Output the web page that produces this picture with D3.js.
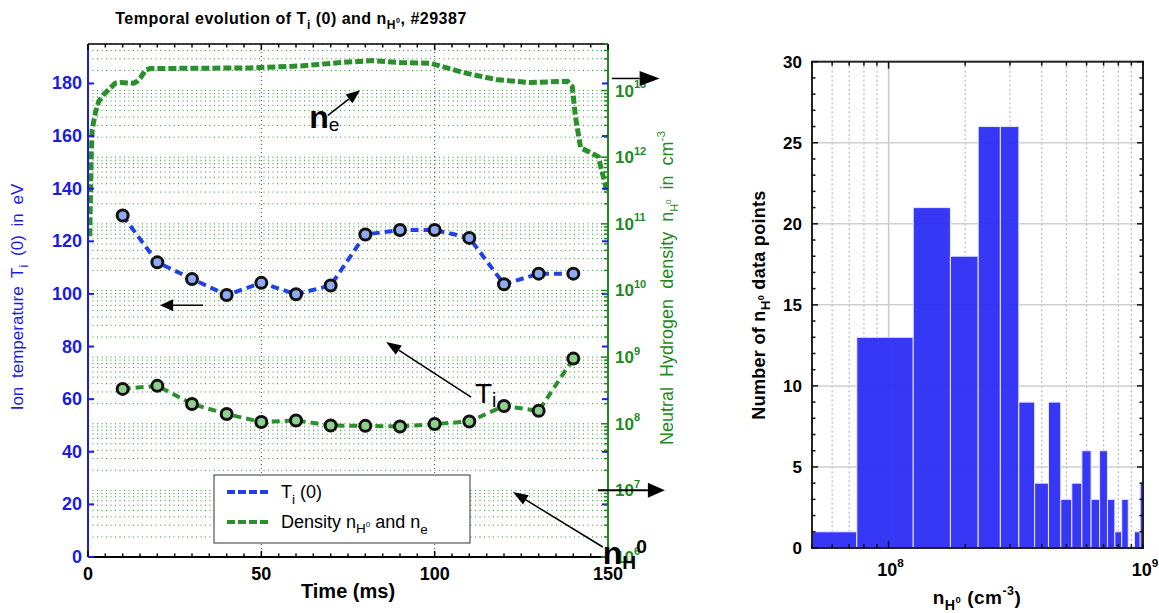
<!DOCTYPE html>
<html>
<head>
<meta charset="utf-8">
<script src="https://cdn.jsdelivr.net/npm/d3@7"></script>
<style>
body { margin: 0; background: #fff; }
svg { display: block; }
text { font-family: "Liberation Sans", Arial, sans-serif; }
</style>
</head>
<body>
<div id="chart"></div>
<script>
// ---- data ----
var timeMs = [10, 20, 30, 40, 50, 60, 70, 80, 90, 100, 110, 120, 130, 140];
var ionTemp = [129.8, 112, 105.7, 99.6, 104.2, 99.9, 103.2, 122.6, 124.3, 124.3, 121.3, 103.7, 107.7, 107.7];
var neutralDensity = [3.33e8, 3.7e8, 1.98e8, 1.4e8, 1.06e8, 1.12e8, 9.4e7, 9.3e7, 9.1e7, 9.9e7, 1.08e8, 1.85e8, 1.56e8, 9.5e8];

// electron density trace (no markers)
var neTime = [0.5, 0.9, 1.2, 2.2, 3.1, 4.5, 6.5, 7.9, 9.4, 13.2, 14.2, 15.1, 16.6, 18, 46.9, 61.3, 72.8, 82.1, 90.1, 98.8, 108.3, 118.1, 127.6, 138.3, 139.7, 140.6, 142.1, 145, 147.2, 149.6];
var neDensity = [6.5e10, 9.1e11, 2.6e12, 4.8e12, 6.9e12, 8.7e12, 1.1e13, 1.29e13, 1.32e13, 1.29e13, 1.38e13, 1.55e13, 2.04e13, 2.14e13, 2.19e13, 2.34e13, 2.63e13, 2.82e13, 2.63e13, 2.57e13, 1.86e13, 1.45e13, 1.32e13, 1.38e13, 1.15e13, 4.1e12, 1.38e12, 1.17e12, 1.02e12, 3.2e11];

var tempTicks = [0, 20, 40, 60, 80, 100, 120, 140, 160, 180];
var timeTicks = [0, 50, 100, 150];
var densityExponents = [6, 7, 8, 9, 10, 11, 12, 13];

// histogram of n_H0
var binCenters = [5e7, 1e8, 1.5e8, 2e8, 2.5e8, 3e8, 3.5e8, 4e8, 4.5e8, 5e8, 5.5e8, 6e8, 6.5e8, 7e8, 7.5e8, 8e8, 8.5e8, 9e8, 9.5e8, 1e9];
var binCounts = [1, 13, 21, 18, 26, 26, 9, 4, 9, 3, 4, 6, 3, 6, 3, 1, 3, 0, 1, 4];
var binWidth = 5e7;
var countTicks = [0, 5, 10, 15, 20, 25, 30];

var BLUE = "#1c1ce0", GREEN = "#1f8a1f", LINE_BLUE = "#2340e6", LINE_GREEN = "#2b8f2b";

var svg = d3.select("#chart").append("svg").attr("width", 1159).attr("height", 613);

// text with sub/superscripts
function rich(parent, x, y, parts, o) {
    var t = parent.append("text").attr("x", x).attr("y", y)
        .attr("text-anchor", o.anchor || "start")
        .attr("fill", o.fill || "#000")
        .style("font-size", o.size + "px")
        .style("font-weight", o.weight || "normal")
        .style("word-spacing", o.ws || null)
        .style("letter-spacing", o.ls || null);
    if (o.rotate) t.attr("transform", "rotate(-90," + x + "," + y + ")");
    var off = 0;
    parts.forEach(function (p) {
        var s = typeof p === "string" ? {t: p} : p;
        var dy = (s.dy || 0) * o.size;
        t.append("tspan").attr("dy", dy - off)
            .style("font-size", s.fs ? (s.fs * o.size) + "px" : null)
            .style("font-weight", s.fw || null)
            .text(s.t);
        off = dy;
    });
    return t;
}

function arrow(g, x1, y1, x2, y2, len, wid, lw) {
    var a = Math.atan2(y2 - y1, x2 - x1);
    var bx = x2 - len * Math.cos(a), by = y2 - len * Math.sin(a);
    g.append("line").attr("x1", x1).attr("y1", y1).attr("x2", bx).attr("y2", by)
        .attr("stroke", "#000").attr("stroke-width", lw);
    var px = -Math.sin(a) * wid / 2, py = Math.cos(a) * wid / 2;
    g.append("path")
        .attr("d", "M" + x2 + "," + y2 + "L" + (bx + px) + "," + (by + py) + "L" + (bx - px) + "," + (by - py) + "Z")
        .attr("fill", "#000");
}

// ================= left chart =================
var L = {x0: 88, x1: 608, y0: 44, y1: 557};
var x = d3.scaleLinear().domain([0, 150]).range([L.x0, L.x1]);
var yT = d3.scaleLinear().domain([0, 195]).range([L.y1, L.y0]);
var yN = d3.scaleLog().domain([1e6, 5e13]).range([L.y1, L.y0]);

var left = svg.append("g");

// log grid (green dotted)
var logGrid = [];
densityExponents.forEach(function (e) {
    for (var k = 1; k <= 9; k++) {
        var v = k * Math.pow(10, e);
        if (v <= 5e13) logGrid.push(v);
    }
});
left.selectAll(".hgrid").data(logGrid).enter().append("line")
    .attr("x1", L.x0).attr("x2", L.x1)
    .attr("y1", function (d) { return yN(d); }).attr("y2", function (d) { return yN(d); })
    .attr("stroke", "#2f8f2f").attr("stroke-width", 1).attr("stroke-dasharray", "1,3.5");

left.selectAll(".vgrid").data([50, 100]).enter().append("line")
    .attr("x1", function (d) { return x(d); }).attr("x2", function (d) { return x(d); })
    .attr("y1", L.y0).attr("y2", L.y1)
    .attr("stroke", "#444").attr("stroke-width", 1).attr("stroke-dasharray", "1,3");

// n_e trace
var neData = neTime.map(function (t, i) { return {t: t, v: neDensity[i]}; });
left.append("path").datum(neData)
    .attr("d", d3.line().x(function (d) { return x(d.t); }).y(function (d) { return yN(d.v); }))
    .attr("fill", "none").attr("stroke", LINE_GREEN).attr("stroke-width", 5).attr("stroke-dasharray", "8,3");

// T_i series
var tiData = timeMs.map(function (t, i) { return {t: t, v: ionTemp[i]}; });
left.append("path").datum(tiData)
    .attr("d", d3.line().x(function (d) { return x(d.t); }).y(function (d) { return yT(d.v); }))
    .attr("fill", "none").attr("stroke", LINE_BLUE).attr("stroke-width", 4).attr("stroke-dasharray", "8,5");

// n_H0 series
var nhData = timeMs.map(function (t, i) { return {t: t, v: neutralDensity[i]}; });
left.append("path").datum(nhData)
    .attr("d", d3.line().x(function (d) { return x(d.t); }).y(function (d) { return yN(d.v); }))
    .attr("fill", "none").attr("stroke", LINE_GREEN).attr("stroke-width", 4).attr("stroke-dasharray", "8,5");

left.selectAll(".tiDot").data(tiData).enter().append("circle")
    .attr("cx", function (d) { return x(d.t); }).attr("cy", function (d) { return yT(d.v); })
    .attr("r", 5.5).attr("fill", "#8eaaf0").attr("stroke", "#111").attr("stroke-width", 3);
left.selectAll(".nhDot").data(nhData).enter().append("circle")
    .attr("cx", function (d) { return x(d.t); }).attr("cy", function (d) { return yN(d.v); })
    .attr("r", 5.5).attr("fill", "#8fd08f").attr("stroke", "#111").attr("stroke-width", 3);

// frame lines
left.append("line").attr("x1", L.x0).attr("x2", L.x1).attr("y1", L.y0).attr("y2", L.y0).attr("stroke", "#000").attr("stroke-width", 1.5);
left.append("line").attr("x1", L.x0).attr("x2", L.x1).attr("y1", L.y1).attr("y2", L.y1).attr("stroke", "#000").attr("stroke-width", 2);
left.append("line").attr("x1", L.x0).attr("x2", L.x0).attr("y1", L.y0).attr("y2", L.y1).attr("stroke", BLUE).attr("stroke-width", 2);
left.append("line").attr("x1", L.x1).attr("x2", L.x1).attr("y1", L.y0).attr("y2", L.y1).attr("stroke", GREEN).attr("stroke-width", 2);

// time ticks (bottom and top, inward)
var timeMinor = d3.range(0, 151, 5);
[L.y1, L.y0].forEach(function (yy, side) {
    var dir = side === 0 ? -1 : 1;
    left.selectAll(null).data(timeMinor).enter().append("line")
        .attr("x1", function (d) { return x(d); }).attr("x2", function (d) { return x(d); })
        .attr("y1", yy).attr("y2", function (d) { return yy + dir * (d % 50 === 0 ? 6 : 3.5); })
        .attr("stroke", "#000").attr("stroke-width", 1.5);
});
left.selectAll(".xlab").data(timeTicks).enter().append("text")
    .attr("x", function (d) { return x(d); }).attr("y", 580)
    .attr("text-anchor", "middle").style("font-size", "18px").style("font-weight", "bold")
    .text(function (d) { return d; });

// temperature ticks (left, blue) + mirrored on right
left.selectAll(".ytl").data(tempTicks).enter().append("line")
    .attr("x1", L.x0).attr("x2", L.x0 + 6)
    .attr("y1", function (d) { return yT(d); }).attr("y2", function (d) { return yT(d); })
    .attr("stroke", BLUE).attr("stroke-width", 2);
left.selectAll(".ytr").data(tempTicks).enter().append("line")
    .attr("x1", L.x1 - 6).attr("x2", L.x1)
    .attr("y1", function (d) { return yT(d); }).attr("y2", function (d) { return yT(d); })
    .attr("stroke", BLUE).attr("stroke-width", 2);
left.selectAll(".ylab").data(tempTicks).enter().append("text")
    .attr("x", L.x0 - 6).attr("y", function (d) { return yT(d) + 6; })
    .attr("text-anchor", "end").attr("fill", BLUE)
    .style("font-size", "18px").style("font-weight", "bold")
    .text(function (d) { return d; });

// density ticks (right, green)
left.selectAll(".yrt").data(logGrid).enter().append("line")
    .attr("x1", function (d) { return L.x1 - (Math.abs(Math.log10(d) % 1) < 1e-9 ? 7 : 4); }).attr("x2", L.x1)
    .attr("y1", function (d) { return yN(d); }).attr("y2", function (d) { return yN(d); })
    .attr("stroke", GREEN).attr("stroke-width", 1.5);
densityExponents.forEach(function (e) {
    rich(left, L.x1 + 7, yN(Math.pow(10, e)) + 6, ["10", {t: String(e), dy: -0.5, fs: 0.65}],
        {size: 17, weight: "bold", fill: GREEN});
});

// axis titles
rich(svg, 291, 24, ["Temporal evolution of T", {t: "i", dy: 0.3, fs: 0.75}, {t: " (0) and n", dy: 0},
    {t: "H", dy: 0.3, fs: 0.75}, {t: "0", dy: -0.05, fs: 0.45}, {t: ", #29387", dy: 0}],
    {size: 16, anchor: "middle", weight: "bold", ls: "0.5px"});
rich(svg, 23, 297, ["Ion temperature T", {t: "i", dy: 0.3, fs: 0.75}, {t: " (0) in eV", dy: 0}],
    {size: 17, anchor: "middle", fill: BLUE, rotate: true, ws: "4px"});
rich(svg, 673, 288, ["Neutral Hydrogen density n", {t: "H", dy: 0.3, fs: 0.6}, {t: "0", dy: -0.1, fs: 0.45},
    {t: " in cm", dy: 0}, {t: "-3", dy: -0.45, fs: 0.65}],
    {size: 18, anchor: "middle", fill: GREEN, rotate: true, ws: "5px"});
svg.append("text").attr("x", 348).attr("y", 598).attr("text-anchor", "middle")
    .style("font-size", "20px").style("font-weight", "bold").text("Time (ms)");

// legend
var lg = left.append("g");
lg.append("rect").attr("x", 214).attr("y", 475).attr("width", 256).attr("height", 68)
    .attr("fill", "#fff").attr("stroke", "#333").attr("stroke-width", 1);
lg.append("line").attr("x1", 227).attr("x2", 271).attr("y1", 492).attr("y2", 492)
    .attr("stroke", LINE_BLUE).attr("stroke-width", 4).attr("stroke-dasharray", "8,3");
lg.append("line").attr("x1", 227).attr("x2", 271).attr("y1", 522).attr("y2", 522)
    .attr("stroke", LINE_GREEN).attr("stroke-width", 4).attr("stroke-dasharray", "8,3");
rich(lg, 281, 498, ["T", {t: "i", dy: 0.35, fs: 0.75}, {t: " (0)", dy: 0}], {size: 18});
rich(lg, 281, 528, ["Density n", {t: "H", dy: 0.3, fs: 0.75}, {t: "0", dy: -0.05, fs: 0.45},
    {t: " and n", dy: 0}, {t: "e", dy: 0.35, fs: 0.75}], {size: 18});

// annotations
var an = svg.append("g");
arrow(an, x(151.1), yT(181.9), x(164.9), yT(181.9), 20, 15, 1.5);
arrow(an, x(147.1), yT(25.4), x(166.4), yT(25.4), 17, 15, 2);
arrow(an, x(33.2), yT(95.7), x(20.8), yT(95.7), 13, 12, 1.5);
arrow(an, x(69.2), yT(167.9), x(78.5), yT(177.4), 14, 11, 1.5);
arrow(an, x(110.5), yT(60.8), x(86), yT(81.7), 15, 11, 1.5);
arrow(an, x(148.5), yT(3.8), x(122.6), yT(24.7), 15, 11, 1.5);
rich(an, x(63.8), yT(163), ["n", {t: "e", dy: 0.1, fs: 0.6, fw: "normal"}], {size: 32, weight: "bold"});
rich(an, x(111.6), yT(58.5), ["T", {t: "i", dy: 0.15, fs: 0.7}], {size: 28});
rich(an, x(148.5), yT(-2.6), ["n", {t: "H", dy: 0.15, fs: 0.6}, {t: "0", dy: -0.35, fs: 0.6}], {size: 32, weight: "bold"});

// ================= histogram =================
var R = {x0: 812, x1: 1143, y0: 61.7, y1: 548};
var xh = d3.scaleLog().domain([5e7, 1e9]).range([R.x0, R.x1]);
var yh = d3.scaleLinear().domain([0, 30]).range([R.y1, R.y0]);
var right = svg.append("g");

svg.append("clipPath").attr("id", "hclip").append("rect")
    .attr("x", R.x0).attr("y", R.y0).attr("width", R.x1 - R.x0).attr("height", R.y1 - R.y0);

var hMinor = [];
[7, 8].forEach(function (e) {
    for (var k = 1; k <= 9; k++) {
        var v = k * Math.pow(10, e);
        if (v >= 5e7 && v <= 1e9) hMinor.push(v);
    }
});
hMinor.push(1e9);
right.selectAll(".hv").data(hMinor).enter().append("line")
    .attr("x1", function (d) { return xh(d); }).attr("x2", function (d) { return xh(d); })
    .attr("y1", R.y0).attr("y2", R.y1)
    .attr("stroke", function (d) { return d === 1e8 ? "#c8c8c8" : "#b8b8b8"; })
    .attr("stroke-width", function (d) { return d === 1e8 ? 1.5 : 1.2; })
    .attr("stroke-dasharray", function (d) { return d === 1e8 ? null : "2,2.5"; });
right.selectAll(".hh").data(countTicks.slice(1, -1)).enter().append("line")
    .attr("x1", R.x0).attr("x2", R.x1)
    .attr("y1", function (d) { return yh(d); }).attr("y2", function (d) { return yh(d); })
    .attr("stroke", "#cfcfcf").attr("stroke-width", 1.5);

right.append("g").attr("clip-path", "url(#hclip)")
    .selectAll("rect").data(binCenters).enter().append("rect")
    .attr("x", function (d) { return xh(d - binWidth / 2); })
    .attr("width", function (d) { return xh(d + binWidth / 2) - xh(d - binWidth / 2); })
    .attr("y", function (d, i) { return yh(binCounts[i]); })
    .attr("height", function (d, i) { return yh(0) - yh(binCounts[i]); })
    .attr("fill", "#2f2ff6").attr("fill-opacity", 0.96)
    .attr("stroke", "#e8e8ff").attr("stroke-width", 1);

// histogram frame + ticks
right.append("rect").attr("x", R.x0).attr("y", R.y0).attr("width", R.x1 - R.x0).attr("height", R.y1 - R.y0)
    .attr("fill", "none").attr("stroke", "#222").attr("stroke-width", 2);
var countMinor = d3.range(0, 31, 1);
[R.x0, R.x1].forEach(function (xx, side) {
    var dir = side === 0 ? 1 : -1;
    right.selectAll(null).data(countMinor).enter().append("line")
        .attr("x1", xx).attr("x2", function (d) { return xx + dir * (d % 5 === 0 ? 6 : 3.5); })
        .attr("y1", function (d) { return yh(d); }).attr("y2", function (d) { return yh(d); })
        .attr("stroke", "#111").attr("stroke-width", 1.5);
});
[R.y1, R.y0].forEach(function (yy, side) {
    var dir = side === 0 ? -1 : 1;
    right.selectAll(null).data(hMinor).enter().append("line")
        .attr("x1", function (d) { return xh(d); }).attr("x2", function (d) { return xh(d); })
        .attr("y1", yy).attr("y2", function (d) { return yy + dir * (d === 1e8 ? 7 : 4); })
        .attr("stroke", "#111").attr("stroke-width", 1.5);
});
right.selectAll(".hyl").data(countTicks).enter().append("text")
    .attr("x", R.x0 - 10).attr("y", function (d) { return yh(d) + 6; })
    .attr("text-anchor", "end").style("font-size", "17px").style("font-weight", "bold")
    .text(function (d) { return d; });
[8, 9].forEach(function (e) {
    rich(right, xh(Math.pow(10, e)) + 2, 576, ["10", {t: String(e), dy: -0.5, fs: 0.65}],
        {size: 18, weight: "bold", anchor: "middle"});
});
rich(svg, 977, 604, ["n", {t: "H", dy: 0.3, fs: 0.75}, {t: "0", dy: -0.05, fs: 0.5},
    {t: " (cm", dy: 0}, {t: "-3", dy: -0.45, fs: 0.65}, {t: ")", dy: 0}],
    {size: 19, weight: "bold", anchor: "middle", ls: "0.5px"});
rich(svg, 765, 305, ["Number of n", {t: "H", dy: 0.3, fs: 0.75}, {t: "0", dy: -0.05, fs: 0.5},
    {t: " data points", dy: 0}],
    {size: 18, weight: "bold", anchor: "middle", rotate: true, ls: "0.3px"});
</script>
</body>
</html>
